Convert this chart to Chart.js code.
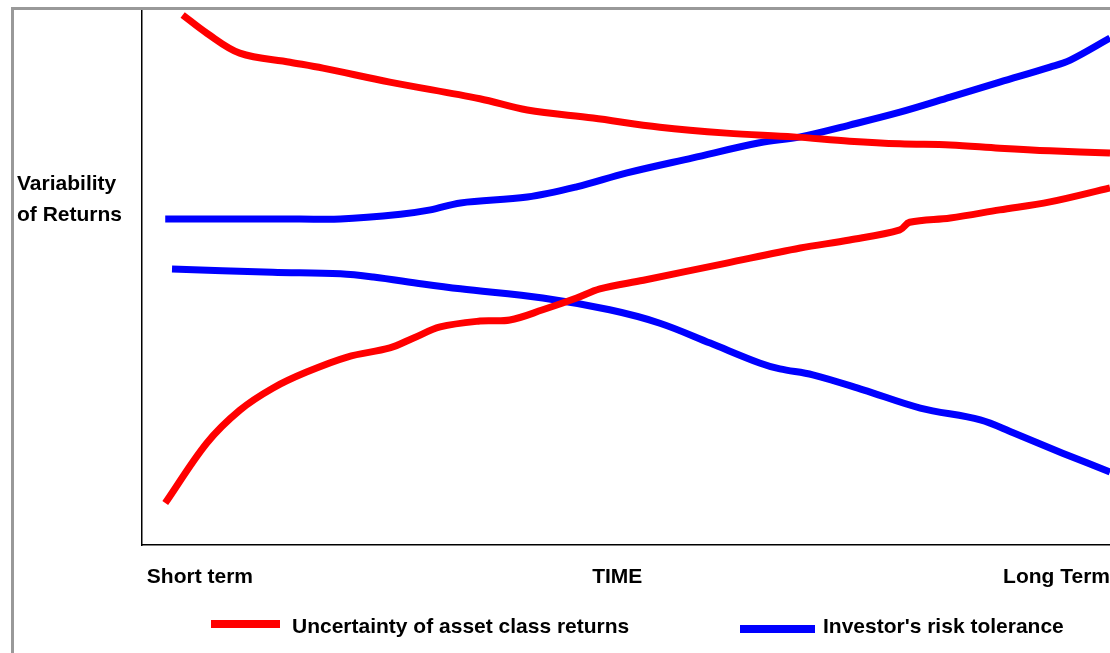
<!DOCTYPE html>
<html>
<head>
<meta charset="utf-8">
<script src="https://cdn.jsdelivr.net/npm/chart.js@4/dist/chart.umd.min.js"></script>
<style>
html, body { margin: 0; padding: 0; background: #ffffff; }
#wrap { width: 1110px; height: 653px; position: relative; }
canvas { display: block; }
</style>
</head>
<body>
<div id="wrap"><canvas id="chart" width="1110" height="653"></canvas></div>
<script>
// ---- Data (x: 0 = short term, 100 = long term; y: relative variability 0..100) ----
const SERIES_NAMES = ["Uncertainty of asset class returns", "Investor's risk tolerance"];
const X_TICK_POS = [0.5, 49.1, 100];
const X_TICK_LABELS = ["Short term", "TIME", "Long Term"];
const Y_TITLE = ["Variability", "of Returns"];

// Uncertainty of asset class returns – upper (falling) curve
const uncUpperX = [4.2, 6.7, 10.1, 15.3, 18.7, 25.6, 34.9, 39.8, 46.6, 53.5, 60.4, 67.3, 73.1, 78.3, 83.5, 88.6, 93.8, 100];
const uncUpperY = [98.7, 95.3, 91.6, 89.9, 88.8, 86.2, 83.1, 81.0, 79.5, 77.8, 76.7, 76.0, 75.2, 74.7, 74.5, 73.9, 73.4, 73.0];

// Uncertainty of asset class returns – lower (rising) curve
const uncLowerX = [2.4, 6.7, 10.1, 13.5, 17.0, 21.2, 25.6, 28.0, 30.8, 34.9, 38.0, 41.4, 44.9, 47.3, 51.8, 60.4, 68.0, 73.1, 78.3, 79.3, 83.5, 88.6, 93.8, 100];
const uncLowerY = [7.8, 19.0, 25.1, 29.2, 32.2, 35.0, 36.7, 38.5, 40.6, 41.7, 41.9, 43.8, 46.0, 47.7, 49.3, 52.5, 55.3, 56.8, 58.7, 60.1, 60.9, 62.4, 63.9, 66.5];

// Investor's risk tolerance – upper (rising) curve
const tolUpperX = [2.4, 16.3, 20.5, 26.7, 29.8, 32.9, 39.8, 44.9, 50.1, 56.9, 63.8, 68.0, 73.1, 78.3, 83.5, 88.6, 93.8, 95.9, 100];
const tolUpperY = [60.7, 60.7, 60.7, 61.6, 62.4, 63.7, 64.8, 66.7, 69.3, 72.1, 74.9, 76.0, 78.2, 80.6, 83.4, 86.2, 89.0, 90.3, 94.4];

// Investor's risk tolerance – lower (falling) curve
const tolLowerX = [3.1, 13.5, 20.5, 23.9, 29.0, 32.9, 41.4, 48.3, 53.5, 58.7, 63.8, 65.9, 69.3, 74.5, 80.4, 86.6, 90.0, 95.1, 100];
const tolLowerY = [51.4, 50.8, 50.5, 49.9, 48.6, 47.7, 46.0, 43.8, 41.3, 37.6, 33.9, 32.8, 31.7, 28.9, 25.5, 23.3, 20.9, 17.1, 13.6];

const RED = '#ff0000';
const BLUE = '#0000ff';
const FONT = '"Liberation Sans", Arial, Helvetica, sans-serif';

function pts(xs, ys) { return xs.map((x, i) => ({ x: x, y: ys[i] })); }

function lineDs(label, xs, ys, color) {
  return {
    label: label,
    data: pts(xs, ys),
    borderColor: color,
    backgroundColor: color,
    borderWidth: 7,
    pointRadius: 0,
    pointHoverRadius: 0,
    fill: false,
    tension: 0.35,
    borderCapStyle: 'butt',
    borderJoinStyle: 'round'
  };
}

const decor = {
  id: 'decor',
  afterDraw(chart) {
    const ctx = chart.ctx;
    ctx.save();
    // outer gray frame (extends past right/bottom edge)
    ctx.strokeStyle = '#999999';
    ctx.lineWidth = 3;
    ctx.beginPath();
    ctx.moveTo(12.5, 700);
    ctx.lineTo(12.5, 8.5);
    ctx.lineTo(1200, 8.5);
    ctx.stroke();

    // y axis title (horizontal, two lines)
    ctx.fillStyle = '#000000';
    ctx.font = 'bold 21px ' + FONT;
    ctx.textAlign = 'left';
    ctx.textBaseline = 'alphabetic';
    ctx.fillText(Y_TITLE[0], 17, 190);
    ctx.fillText(Y_TITLE[1], 17, 221);

    // legend
    const items = [
      { text: SERIES_NAMES[0], color: RED, bx: 211, bw: 69, by: 620, tx: 292 },
      { text: SERIES_NAMES[1], color: BLUE, bx: 740, bw: 75, by: 625, tx: 823 }
    ];
    items.forEach(it => {
      ctx.fillStyle = it.color;
      ctx.fillRect(it.bx, it.by, it.bw, 8);
      ctx.fillStyle = '#000000';
      ctx.fillText(it.text, it.tx, 633);
    });
    ctx.restore();
  }
};

const chart = new Chart(document.getElementById('chart'), {
  type: 'line',
  data: {
    datasets: [
      lineDs(SERIES_NAMES[0], uncUpperX, uncUpperY, RED),
      lineDs(SERIES_NAMES[0], uncLowerX, uncLowerY, RED),
      lineDs(SERIES_NAMES[1], tolUpperX, tolUpperY, BLUE),
      lineDs(SERIES_NAMES[1], tolLowerX, tolLowerY, BLUE)
    ]
  },
  options: {
    responsive: false,
    animation: false,
    events: [],
    layout: { padding: { left: 0, right: 0, top: 8, bottom: 0 } },
    plugins: {
      legend: { display: false },
      tooltip: { enabled: false },
      title: { display: false }
    },
    scales: {
      x: {
        type: 'linear',
        min: 0,
        max: 100,
        grid: { display: false, drawTicks: false },
        border: { display: true, color: '#000000', width: 1.5 },
        afterBuildTicks: (axis) => { axis.ticks = X_TICK_POS.map(v => ({ value: v })); },
        afterFit: (axis) => { axis.height = 108; axis.paddingLeft = 0; axis.paddingRight = 0; },
        ticks: {
          autoSkip: false,
          maxRotation: 0,
          minRotation: 0,
          align: 'inner',
          padding: 20,
          color: '#000000',
          font: { family: FONT, size: 21, weight: 'bold' },
          callback: (value, index) => X_TICK_LABELS[index]
        }
      },
      y: {
        type: 'linear',
        min: 0,
        max: 100,
        grid: { display: false, drawTicks: false },
        border: { display: true, color: '#000000', width: 1.5 },
        afterFit: (axis) => { axis.width = 142; axis.paddingTop = 0; axis.paddingBottom = 0; },
        ticks: { display: false }
      }
    }
  },
  plugins: [decor]
});
</script>
</body>
</html>
